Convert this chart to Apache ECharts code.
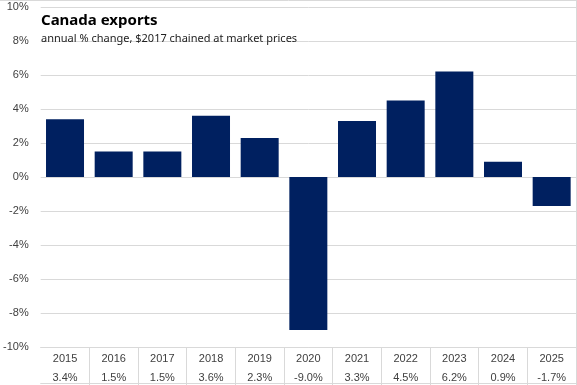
<!DOCTYPE html>
<html>
<head>
<meta charset="utf-8">
<script src="https://cdn.jsdelivr.net/npm/echarts@6/dist/echarts.min.js"></script>
<style>html,body{margin:0;padding:0;background:#fff}#c{width:577px;height:385px}</style>
</head>
<body>
<div id="c"></div>
<script>
var years = ['2015','2016','2017','2018','2019','2020','2021','2022','2023','2024','2025'];
var values = [3.4, 1.5, 1.5, 3.6, 2.3, -9.0, 3.3, 4.5, 6.2, 0.9, -1.7];
var valueLabels = ['3.4%','1.5%','1.5%','3.6%','2.3%','-9.0%','3.3%','4.5%','6.2%','0.9%','-1.7%'];
var title = 'Canada exports';
var subtitle = 'annual % change, $2017 chained at market prices';

var chart = echarts.init(document.getElementById('c'), null, {renderer: 'canvas'});
var gridCol = '#d9d9d9';
var txt = '#404040';
chart.setOption({
  animation: false,
  backgroundColor: '#fff',
  title: {
    text: title,
    subtext: subtitle,
    left: 36, top: 8,
    itemGap: 5,
    textStyle: {fontFamily: 'Noto Sans', fontWeight: 'bold', fontSize: 15, color: '#000'},
    subtextStyle: {fontFamily: 'Noto Sans', fontSize: 11, color: '#222'}
  },
  grid: {left: 38, right: 1, top: 7, bottom: 38, containLabel: false},
  xAxis: [{
    type: 'category',
    data: years,
    position: 'bottom',
    axisLine: {show: true, onZero: false, lineStyle: {color: gridCol}},
    axisTick: {show: true, length: 38, lineStyle: {color: gridCol},
      interval: function (i) { return i !== 0; }},
    axisLabel: {
      margin: 2,
      interval: 0,
      formatter: function (v, i) { return '{y|' + v + '}\n{v|' + valueLabels[i] + '}'; },
      rich: {
        y: {fontFamily: 'Liberation Sans', fontSize: 11, color: txt, lineHeight: 19},
        v: {fontFamily: 'Liberation Sans', fontSize: 11, color: txt, lineHeight: 19}
      }
    }
  }, {
    type: 'category',
    data: years,
    position: 'bottom',
    offset: 36,
    axisLine: {show: true, onZero: false, lineStyle: {color: gridCol}},
    axisTick: {show: false},
    axisLabel: {show: false}
  }],
  yAxis: {
    type: 'value',
    min: -10, max: 10, interval: 2,
    axisLine: {show: false},
    axisTick: {show: false},
    axisLabel: {formatter: '{value}%', fontFamily: 'Liberation Sans', fontSize: 11, color: txt, margin: 12},
    splitLine: {lineStyle: {color: gridCol}}
  },
  graphic: [
    {type: 'line', shape: {x1: 0, y1: 0.5, x2: 577, y2: 0.5}, style: {stroke: gridCol, lineWidth: 1}},
    {type: 'line', shape: {x1: 576.5, y1: 0, x2: 576.5, y2: 385}, style: {stroke: gridCol, lineWidth: 1}}
  ],
  series: [{
    type: 'bar',
    data: values,
    barWidth: 38,
    itemStyle: {color: '#002060'}
  }]
});
</script>
</body>
</html>
